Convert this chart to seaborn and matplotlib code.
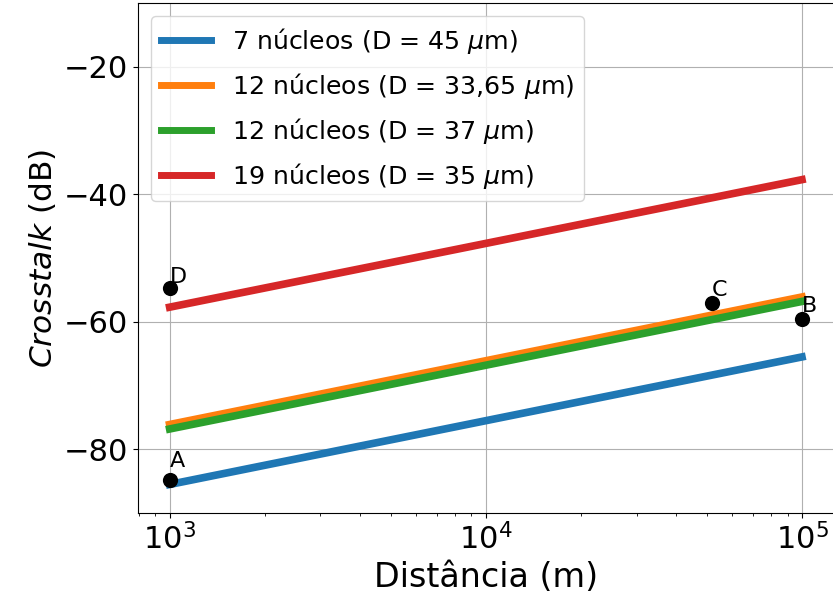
import numpy as np
import pandas as pd
import matplotlib
matplotlib.use('Agg')
import matplotlib.pyplot as plt
from matplotlib.ticker import MultipleLocator
import seaborn as sns

# dados
distancias = [1e3, 1e5]
xt_7_45 = [-85.5, -65.5]
xt_12_3365 = [-76.1, -56.1]
xt_12_37 = [-76.8, -56.8]
xt_19_35 = [-57.7, -37.7]
rotulos = ['7 núcleos (D = 45 $\\mu$m)',
           '12 núcleos (D = 33,65 $\\mu$m)',
           '12 núcleos (D = 37 $\\mu$m)',
           '19 núcleos (D = 35 $\\mu$m)']
cores = ['#1f77b4', '#ff7f0e', '#2ca02c', '#d62728']

# pontos de referência A-D
pontos_nome = ['A', 'B', 'C', 'D']
pontos_x = [1e3, 1e5, 5.2e4, 1e3]
pontos_y = [-84.8, -59.6, -57.0, -54.7]
texto_y = [-82.8, -58.5, -56.0, -53.9]

df = pd.concat([
    pd.DataFrame({'dist': distancias, 'xt': v, 'serie': r})
    for v, r in zip([xt_7_45, xt_12_3365, xt_12_37, xt_19_35], rotulos)
])
df_pts = pd.DataFrame({'x': pontos_x, 'y': pontos_y})

fig = plt.figure(figsize=(8.33, 6.03), dpi=100)
ax = fig.add_axes([0.1657, 0.149, 0.835, 0.846])

sns.lineplot(data=df, x='dist', y='xt', hue='serie', hue_order=rotulos,
             palette=cores, linewidth=5.5, ax=ax)
sns.scatterplot(data=df_pts, x='x', y='y', color='black', s=120,
                edgecolor='black', linewidth=0, legend=False, ax=ax, zorder=5)
for n, x, y in zip(pontos_nome, pontos_x, texto_y):
    ax.text(x, y, n, fontsize=16)

ax.set_xscale('log')
ax.set_ylim(-90, -10)
ax.yaxis.set_major_locator(MultipleLocator(20))
ax.grid(True, which='major', color='#b0b0b0', linewidth=0.8)
ax.set_xlabel('Distância (m)', fontsize=24)
ax.set_ylabel('$\\it{Crosstalk}$ (dB)', fontsize=22.5)
ax.tick_params(axis='both', labelsize=22)
leg = ax.legend(loc='upper left', fontsize=18.2, labelspacing=0.6)
for l in leg.get_lines():
    l.set_linewidth(5)

fig.savefig('out.png', dpi=100)
